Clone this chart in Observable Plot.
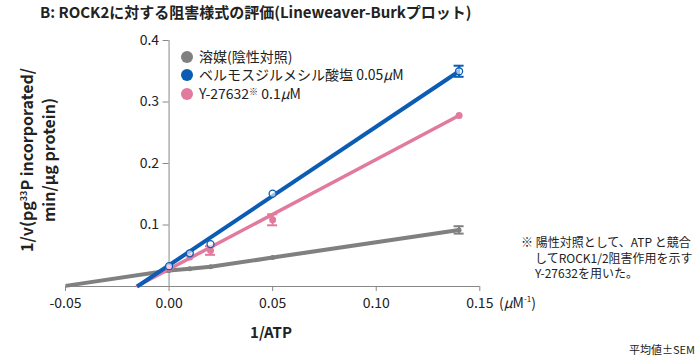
<!DOCTYPE html>
<html><head><meta charset="utf-8">
<script src="https://cdn.jsdelivr.net/npm/d3@7"></script>
<script src="https://cdn.jsdelivr.net/npm/@observablehq/plot@0.6"></script>
<style>
html,body{margin:0;padding:0;background:#fff;}
#wrap{position:relative;width:700px;height:358px;font-family:"Noto Sans CJK JP","Noto Sans",sans-serif;color:#222;}
.t{position:absolute;white-space:nowrap;}
</style></head>
<body><div id="wrap"></div>
<script>
// ---- data ----
const seriesNames = ["溶媒(陰性対照)", "ベルモスジルメシル酸塩 0.05μM", "Y-27632※ 0.1μM"];
const seriesColors = ["#808080", "#0b5cb5", "#e27a9e"];
const atp = [0, 0.01, 0.02, 0.05, 0.14];
const vehicleY = [0.026, 0.029, 0.032, 0.047, 0.092];
const belumosudilY = [0.033, 0.054, 0.069, 0.151, 0.350];
const y27632Y = [0.030, 0.048, 0.0585, 0.1085, 0.278];
const vehicleSem = [0, 0, 0, 0, 0.006];
const belumosudilSem = [0, 0, 0, 0, 0.009];
const y27632Sem = [0, 0, 0.007, 0.009, 0];
// fitted / extrapolated lines
const vehicleLineX = [-0.05, 0, 0.01, 0.02, 0.05, 0.14];
const vehicleLineY = [0.001, 0.026, 0.029, 0.032, 0.047, 0.092];
const belumosudilLineX = [-0.0154, 0.14];
const belumosudilLineY = [0, 0.350];
const y27632LineX = [-0.0158, 0.14];
const y27632LineY = [0, 0.278];
const xTicks = [-0.05, 0, 0.05, 0.10, 0.15];
const xTickLabels = ["-0.05", "0.00", "0.05", "0.10", "0.15"];
const yTicks = [0.1, 0.2, 0.3, 0.4];
const yTickLabels = ["0.1", "0.2", "0.3", "0.4"];

// ---- build tables ----
const ys = [vehicleY, belumosudilY, y27632Y];
const sems = [vehicleSem, belumosudilSem, y27632Sem];
const pts = [];
ys.forEach((arr, s) => arr.forEach((v, i) => pts.push({s, x: atp[i], y: v, sem: sems[s][i]})));
const errs = pts.filter(d => d.sem > 0);
const mk = (xs, yv, s) => xs.map((x, i) => ({s, x, y: yv[i]}));
const lines = [mk(vehicleLineX, vehicleLineY, 0), mk(y27632LineX, y27632LineY, 2), mk(belumosudilLineX, belumosudilLineY, 1)];
const col = d => seriesColors[d.s];

const font = '"Noto Sans CJK JP","Noto Sans",sans-serif';
const chart = Plot.plot({
  width: 700, height: 358,
  marginLeft: 65, marginRight: 220.7, marginTop: 40, marginBottom: 72,
  x: {domain: [-0.05, 0.15], axis: null},
  y: {domain: [0, 0.4], axis: null},
  style: {fontFamily: font, background: "transparent", overflow: "visible"},
  marks: [
    Plot.ruleY([0], {x1: -0.05, x2: 0.15, stroke: "#888", strokeWidth: 1}),
    Plot.ruleX([0], {y1: 0, y2: 0.4, stroke: "#888", strokeWidth: 1}),
    Plot.ruleX(xTicks, {x: d => d, y1: 0, y2: 0, insetBottom: -5, stroke: "#888"}),
    Plot.ruleY(yTicks, {y: d => d, x1: 0, x2: 0, insetLeft: -6, stroke: "#888"}),
    Plot.text(xTicks, {x: d => d, y: 0, dy: 17, text: (d, i) => xTickLabels[i], fontSize: 14, fill: "#222"}),
    Plot.text(yTicks, {x: 0, y: d => d, dx: -10, text: (d, i) => yTickLabels[i], textAnchor: "end", fontSize: 14, fill: "#222"}),
    ...lines.map(L => Plot.line(L, {x: "x", y: "y", stroke: col, strokeWidth: L[0].s === 2 ? 3.5 : 4, strokeLinecap: "butt"})),
    Plot.ruleX(errs, {x: "x", y1: d => d.y - d.sem, y2: d => d.y + d.sem, stroke: col, strokeWidth: 2}),
    Plot.ruleY(errs, {y: d => d.y + d.sem, x1: "x", x2: "x", insetLeft: -5, insetRight: -5, stroke: col, strokeWidth: 2}),
    Plot.ruleY(errs, {y: d => d.y - d.sem, x1: "x", x2: "x", insetLeft: -5, insetRight: -5, stroke: col, strokeWidth: 2}),
    Plot.dot(pts.filter(d => d.s === 0), {x: "x", y: "y", r: 2.5, fill: col}),
    Plot.dot(pts.filter(d => d.s === 2), {x: "x", y: "y", r: 3.5, fill: col}),
    Plot.dot(pts.filter(d => d.s === 1), {x: "x", y: "y", r: 3.5, fill: "white", fillOpacity: 0.6, stroke: col, strokeWidth: 1.3})
  ]
});
const wrap = document.getElementById("wrap");
wrap.appendChild(chart);

function addText(html, css) {
  const d = document.createElement("div");
  d.className = "t"; d.innerHTML = html;
  Object.assign(d.style, css);
  wrap.appendChild(d);
  return d;
}
addText("B: ROCK2に対する阻害様式の評価(Lineweaver-Burkプロット)", {left: "40px", top: "1px", fontSize: "15px", fontWeight: "bold"});
// y label
addText("1/v(pg<sup style='font-size:9px'>33</sup>P incorporated/<br>min/µg protein)",
  {left: "36px", top: "160px", fontSize: "16px", fontWeight: "bold", textAlign: "center", lineHeight: "22px",
   transform: "translate(-50%,-50%) rotate(-90deg)"});
addText("1/ATP", {left: "271px", top: "331px", fontSize: "15px", fontWeight: "bold", transform: "translate(-50%,-50%)"});
addText("(<i>μ</i>M<sup style='font-size:8px'>-1</sup>)", {left: "499px", top: "302px", fontSize: "14px", transform: "translateY(-50%)"});
// legend
seriesNames.forEach((n, i) => {
  const y = 55.7 + i * 18.7;
  addText(`<span style="display:inline-block;width:12px;height:12px;border-radius:50%;background:${seriesColors[i]};vertical-align:-1px;margin-right:6px"></span>` +
    n.replace("μ", "<i>μ</i>").replace("※", "<span style='font-size:9px;vertical-align:4px'>※</span>"),
    {left: "181px", top: y + "px", fontSize: "14px", transform: "translateY(-50%)"});
});
addText("※ 陽性対照として、ATP と競合<br><span style='padding-left:14px'>してROCK1/2阻害作用を示す</span><br><span style='padding-left:14px'>Y-27632を用いた。</span>",
  {left: "521px", top: "234px", fontSize: "12px", lineHeight: "15.5px"});
addText("平均値±SEM", {right: "5px", top: "341px", fontSize: "11px"});
</script></body></html>
